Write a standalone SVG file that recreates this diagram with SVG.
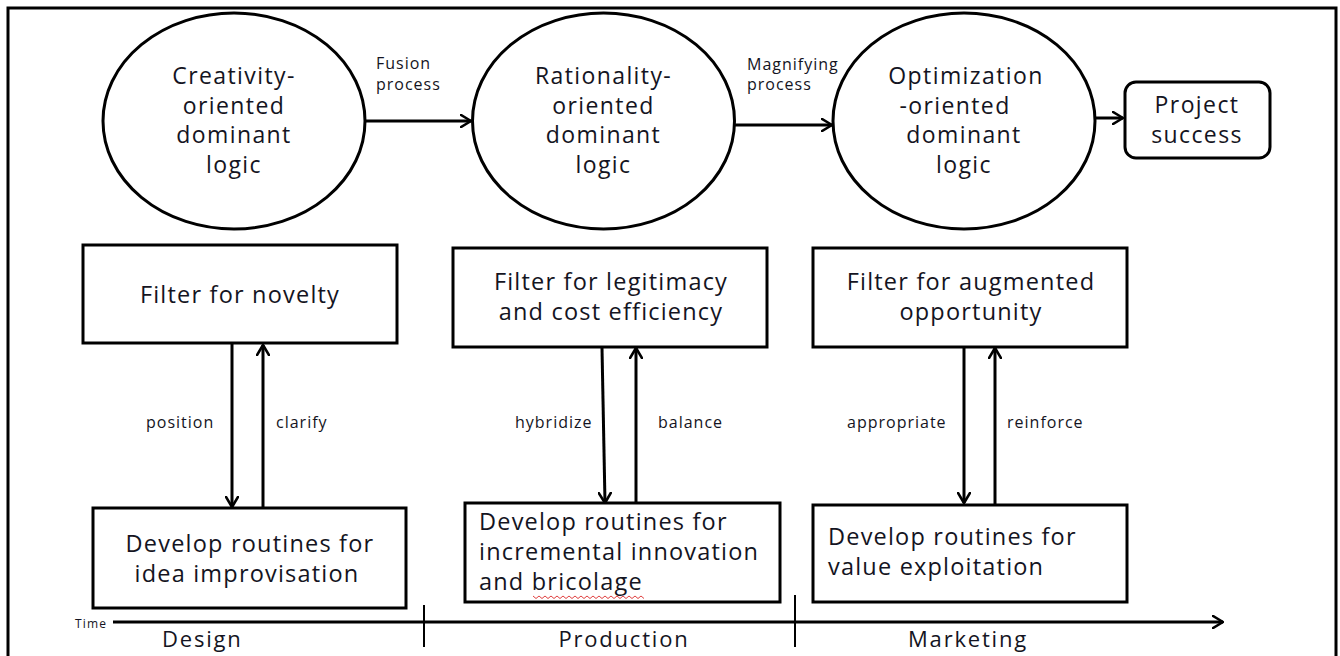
<svg xmlns="http://www.w3.org/2000/svg" width="1340" height="656" viewBox="0 0 1340 656">
  <style>
    .frame { fill: none; stroke: #000; stroke-width: 3; }
    .node { fill: #fff; stroke: #000; stroke-width: 3; }
    .edge { fill: none; stroke: #000; stroke-width: 3; }
    .tick { fill: none; stroke: #000; stroke-width: 2; }
    text { font-family: "Open Sans", "Liberation Sans", sans-serif; fill: #141422; }
    .big { font-size: 23px; letter-spacing: 1.4px; text-anchor: middle; }
    .box { font-size: 23.5px; letter-spacing: 1.2px; }
    .mid { text-anchor: middle; }
    .lbl { font-size: 16px; letter-spacing: 1px; }
    .phase { font-size: 22px; letter-spacing: 1.8px; }
    .time { font-size: 12px; letter-spacing: 1.2px; }
  </style>
  <defs>
    <marker id="chev" viewBox="0 0 12 14" refX="11" refY="7" markerWidth="12" markerHeight="14" markerUnits="userSpaceOnUse" orient="auto">
      <path d="M1,1 L11,7 L1,13" fill="none" stroke="#000" stroke-width="2.6" stroke-linecap="round" stroke-linejoin="round"/>
    </marker>
  </defs>

  <rect class="frame" x="8" y="8" width="1328" height="670"/>

  <!-- dominant logics -->
  <g id="creativity">
    <ellipse class="node" cx="234" cy="121" rx="131" ry="108"/>
    <text class="big" x="234" y="84">Creativity-</text>
    <text class="big" x="234" y="113.5">oriented</text>
    <text class="big" x="234" y="143">dominant</text>
    <text class="big" x="234" y="172.5">logic</text>
  </g>
  <g id="rationality">
    <ellipse class="node" cx="603.5" cy="121" rx="131" ry="108"/>
    <text class="big" x="603.5" y="84">Rationality-</text>
    <text class="big" x="603.5" y="113.5">oriented</text>
    <text class="big" x="603.5" y="143">dominant</text>
    <text class="big" x="603.5" y="172.5">logic</text>
  </g>
  <g id="optimization">
    <ellipse class="node" cx="964" cy="121" rx="131" ry="108"/>
    <text class="big" x="966" y="84">Optimization</text>
    <text class="big" x="955" y="113.5">-oriented</text>
    <text class="big" x="964" y="143">dominant</text>
    <text class="big" x="964" y="172.5">logic</text>
  </g>
  <g id="success">
    <rect class="node" x="1125" y="82" width="145" height="76" rx="11"/>
    <text class="big" x="1197" y="113">Project</text>
    <text class="big" x="1197" y="143">success</text>
  </g>

  <!-- filters -->
  <g id="filter-novelty">
    <rect class="node" x="83" y="245" width="314" height="98"/>
    <text class="box mid" x="240" y="303">Filter for novelty</text>
  </g>
  <g id="filter-legitimacy">
    <rect class="node" x="453" y="248" width="314" height="99"/>
    <text class="box mid" x="611" y="290">Filter for legitimacy</text>
    <text class="box mid" x="611" y="320">and cost efficiency</text>
  </g>
  <g id="filter-opportunity">
    <rect class="node" x="813" y="248" width="314" height="99"/>
    <text class="box mid" x="971" y="290">Filter for augmented</text>
    <text class="box mid" x="971" y="320">opportunity</text>
  </g>

  <!-- routines -->
  <g id="routines-improvisation">
    <rect class="node" x="93" y="508" width="313" height="100"/>
    <text class="box mid" x="250" y="552">Develop routines for</text>
    <text class="box mid" x="247" y="582">idea improvisation</text>
  </g>
  <g id="routines-bricolage">
    <rect class="node" x="465" y="503" width="315" height="99"/>
    <text class="box" x="479" y="530">Develop routines for</text>
    <text class="box" x="479" y="560">incremental innovation</text>
    <text class="box" x="479" y="590">and bricolage</text>
    <!-- spell-check squiggle under "bricolage" -->
    <path d="M533,596 l3,2.5 l3,-2.5 l3,2.5 l3,-2.5 l3,2.5 l3,-2.5 l3,2.5 l3,-2.5 l3,2.5 l3,-2.5 l3,2.5 l3,-2.5 l3,2.5 l3,-2.5 l3,2.5 l3,-2.5 l3,2.5 l3,-2.5 l3,2.5 l3,-2.5 l3,2.5 l3,-2.5 l3,2.5 l3,-2.5 l3,2.5 l3,-2.5 l3,2.5 l3,-2.5 l3,2.5 l3,-2.5 l3,2.5 l3,-2.5 l3,2.5 l3,-2.5 l3,2.5 l3,-2.5 l3,2.5" fill="none" stroke="#e04040" stroke-width="1"/>
  </g>
  <g id="routines-exploitation">
    <rect class="node" x="813" y="505" width="314" height="97"/>
    <text class="box" x="828" y="545">Develop routines for</text>
    <text class="box" x="828" y="575">value exploitation</text>
  </g>

  <!-- connectors -->
  <g id="connectors">
    <line class="edge" x1="366" y1="121" x2="471" y2="121" marker-end="url(#chev)"/>
    <line class="edge" x1="735" y1="125" x2="832" y2="125" marker-end="url(#chev)"/>
    <line class="edge" x1="1095" y1="118" x2="1123" y2="118" marker-end="url(#chev)"/>

    <line class="edge" x1="232" y1="344" x2="232" y2="507" marker-end="url(#chev)"/>
    <line class="edge" x1="263" y1="508" x2="263" y2="345" marker-end="url(#chev)"/>
    <line class="edge" x1="602" y1="348" x2="605" y2="503" marker-end="url(#chev)"/>
    <line class="edge" x1="636" y1="503" x2="636" y2="348" marker-end="url(#chev)"/>
    <line class="edge" x1="964" y1="348" x2="964" y2="503" marker-end="url(#chev)"/>
    <line class="edge" x1="995" y1="505" x2="995" y2="348" marker-end="url(#chev)"/>

    <text class="lbl" x="376" y="69">Fusion</text>
    <text class="lbl" x="376" y="90">process</text>
    <text class="lbl" x="747" y="70">Magnifying</text>
    <text class="lbl" x="747" y="90">process</text>

    <text class="lbl" x="146" y="428">position</text>
    <text class="lbl" x="276" y="428">clarify</text>
    <text class="lbl" x="515" y="428">hybridize</text>
    <text class="lbl" x="658" y="428">balance</text>
    <text class="lbl" x="847" y="428">appropriate</text>
    <text class="lbl" x="1007" y="428">reinforce</text>
  </g>

  <!-- time axis with phases -->
  <g id="timeline">
    <text class="time" x="75" y="628">Time</text>
    <line class="edge" x1="113" y1="622" x2="1223" y2="622" marker-end="url(#chev)"/>
    <line class="tick" x1="424" y1="605" x2="424" y2="647"/>
    <line class="tick" x1="795" y1="595" x2="795" y2="647"/>
    <text class="phase" x="162" y="647">Design</text>
    <text class="phase mid" x="624" y="647">Production</text>
    <text class="phase mid" x="968" y="647">Marketing</text>
  </g>
</svg>
